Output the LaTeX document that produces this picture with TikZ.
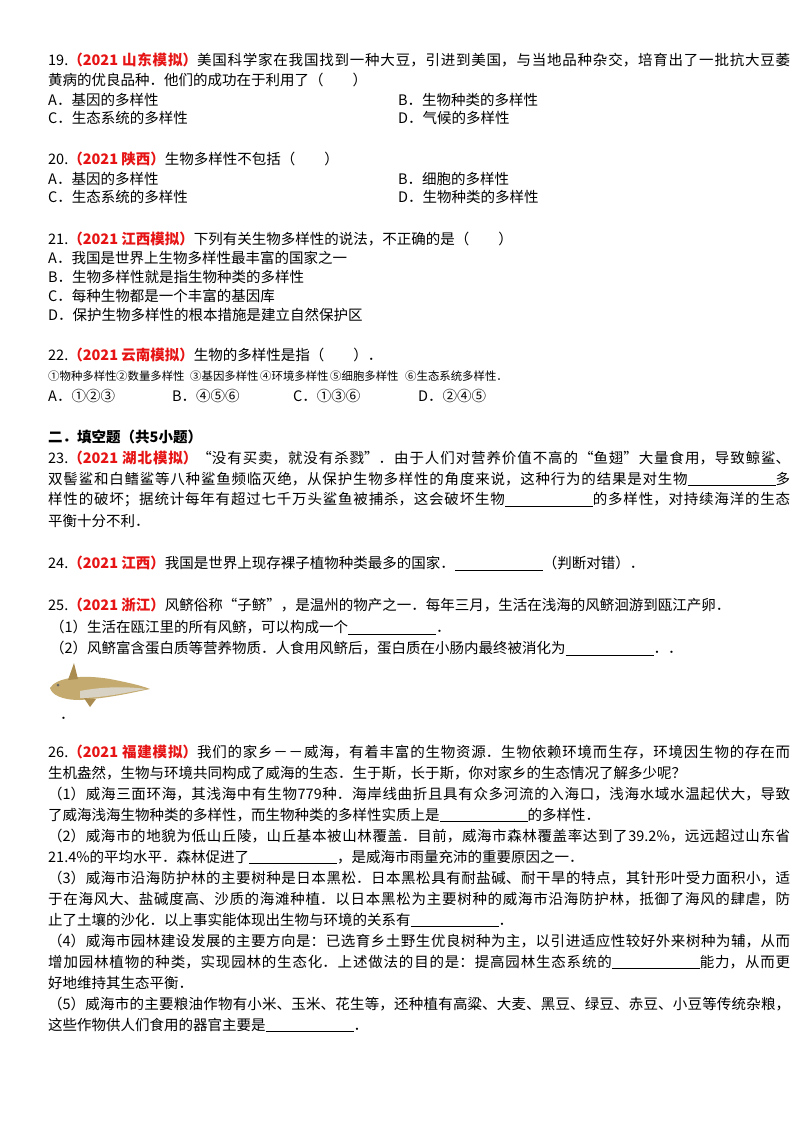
\documentclass[tikz,border=0pt]{standalone}
\usepackage{fontspec}
\setmainfont{Noto Sans CJK SC}
\XeTeXlinebreaklocale "zh"
\XeTeXlinebreakskip=0pt plus 2pt
\definecolor{qred}{RGB}{230,20,20}
\definecolor{fishA}{RGB}{196,170,110}
\definecolor{fishB}{RGB}{170,140,80}
\definecolor{fishC}{RGB}{215,210,195}
\newcommand{\src}[1]{\textcolor{qred}{\bfseries （2021 #1）}}
\newcommand{\blank}{\rule[-2pt]{88pt}{0.7pt}}
\begin{document}
\begin{tikzpicture}[x=1pt,y=-1pt,
  ln/.style={anchor=west,inner sep=0pt,font=\fontsize{14.5}{16}\selectfont},
  sm/.style={ln,font=\fontsize{11.4}{14}\selectfont},
  jl/.style={ln,text width=742pt,align=justify,execute at begin node={\parfillskip=0pt}}]
\useasboundingbox (0,0) rectangle (800,1132);
\fill[white] (0,0) rectangle (800,1132);
% 19
\node[jl] (a1) at (48,60) {19.\src{山东模拟}美国科学家在我国找到一种大豆，引进到美国，与当地品种杂交，培育出了一批抗大豆萎};
\node[ln] (a2) at (48,80) {黄病的优良品种．他们的成功在于利用了（\qquad ）};
\node[ln] (a3) at (48,100) {A．基因的多样性};
\node[ln] (a4) at (398,100) {B．生物种类的多样性};
\node[ln] (a5) at (48,118) {C．生态系统的多样性};
\node[ln] (a6) at (398,118) {D．气候的多样性};
% 20
\node[ln] (b1) at (48,159) {20.\src{陕西}生物多样性不包括（\qquad ）};
\node[ln] (b2) at (48,179) {A．基因的多样性};
\node[ln] (b3) at (398,179) {B．细胞的多样性};
\node[ln] (b4) at (48,197) {C．生态系统的多样性};
\node[ln] (b5) at (398,197) {D．生物种类的多样性};
% 21
\node[ln] (c1) at (48,239) {21.\src{江西模拟}下列有关生物多样性的说法，不正确的是（\qquad ）};
\node[ln] (c2) at (48,258) {A．我国是世界上生物多样性最丰富的国家之一};
\node[ln] (c3) at (48,277) {B．生物多样性就是指生物种类的多样性};
\node[ln] (c4) at (48,296) {C．每种生物都是一个丰富的基因库};
\node[ln] (c5) at (48,315) {D．保护生物多样性的根本措施是建立自然保护区};
% 22
\node[ln] (d1) at (48,355) {22.\src{云南模拟}生物的多样性是指（\qquad ）．};
\node[sm] (d2) at (48,376) {①物种多样性};
\node[sm] (d3) at (116,376) {②数量多样性};
\node[sm] (d4) at (190,376) {③基因多样性};
\node[sm] (d5) at (260,376) {④环境多样性};
\node[sm] (d6) at (330,376) {⑤细胞多样性};
\node[sm] (d7) at (405,376) {⑥生态系统多样性．};
\node[ln] (d8) at (48,396) {A．①②③};
\node[ln] (d9) at (172,396) {B．④⑤⑥};
\node[ln] (d10) at (293,396) {C．①③⑥};
\node[ln] (d11) at (418,396) {D．②④⑤};
% section
\node[ln,font=\fontsize{14.5}{16}\selectfont\bfseries] (s) at (48,437) {二．填空题（共5小题）};
% 23
\node[jl] (e1) at (48,458) {23.\src{湖北模拟}“没有买卖，就没有杀戮”．由于人们对营养价值不高的“鱼翅”大量食用，导致鲸鲨、};
\node[jl] (e2) at (48,479) {双髻鲨和白鳍鲨等八种鲨鱼频临灭绝，从保护生物多样性的角度来说，这种行为的结果是对生物\blank 多};
\node[jl] (e3) at (48,500) {样性的破坏；据统计每年有超过七千万头鲨鱼被捕杀，这会破坏生物\blank 的多样性，对持续海洋的生态};
\node[ln] (e4) at (48,521) {平衡十分不利．};
% 24
\node[ln] (f1) at (48,563) {24.\src{江西}我国是世界上现存裸子植物种类最多的国家．\blank（判断对错）．};
% 25
\node[ln] (g1) at (48,605) {25.\src{浙江}风鲚俗称“子鲚”，是温州的物产之一．每年三月，生活在浅海的风鲚洄游到瓯江产卵．};
\node[ln] (g2) at (50,627) {（1）生活在瓯江里的所有风鲚，可以构成一个\blank．};
\node[ln] (g3) at (50,648) {（2）风鲚富含蛋白质等营养物质．人食用风鲚后，蛋白质在小肠内最终被消化为\blank．．};
% fish
\fill[fishA] (50,688) .. controls (56,678) and (80,674) .. (110,679)
  .. controls (125,682) and (140,685) .. (150,689) .. controls (130,693) and (110,698) .. (80,700)
  .. controls (62,700) and (52,695) .. (50,688) -- cycle;
\fill[fishB] (68,680) -- (74,663) -- (78,679) -- cycle;
\fill[fishC] (80,691) .. controls (100,687) and (125,686) .. (146,689) .. controls (120,694) and (100,698) .. (80,698) -- cycle;
\fill[fishB] (84,698) -- (90,707) -- (96,699) -- cycle;
\fill[black!60] (58,685) circle (1.5);
\node[ln] (g4) at (60,718) {．};
% 26
\node[jl] (h1) at (48,752) {26.\src{福建模拟}我们的家乡－－威海，有着丰富的生物资源．生物依赖环境而生存，环境因生物的存在而};
\node[ln] (h2) at (48,773) {生机盎然，生物与环境共同构成了威海的生态．生于斯，长于斯，你对家乡的生态情况了解多少呢？};
\node[jl] (h3) at (48,794) {（1）威海三面环海，其浅海中有生物779种．海岸线曲折且具有众多河流的入海口，浅海水域水温起伏大，导致};
\node[ln] (h4) at (48,815) {了威海浅海生物种类的多样性，而生物种类的多样性实质上是\blank 的多样性．};
\node[jl] (h5) at (48,836) {（2）威海市的地貌为低山丘陵，山丘基本被山林覆盖．目前，威海市森林覆盖率达到了39.2\%，远远超过山东省};
\node[ln] (h6) at (48,857) {21.4\%的平均水平．森林促进了\blank，是威海市雨量充沛的重要原因之一．};
\node[jl] (h7) at (48,878) {（3）威海市沿海防护林的主要树种是日本黑松．日本黑松具有耐盐碱、耐干旱的特点，其针形叶受力面积小，适};
\node[jl] (h8) at (48,899) {于在海风大、盐碱度高、沙质的海滩种植．以日本黑松为主要树种的威海市沿海防护林，抵御了海风的肆虐，防};
\node[ln] (h9) at (48,920) {止了土壤的沙化．以上事实能体现出生物与环境的关系有\blank．};
\node[jl] (h10) at (48,941) {（4）威海市园林建设发展的主要方向是：已选育乡土野生优良树种为主，以引进适应性较好外来树种为辅，从而};
\node[jl] (h11) at (48,962) {增加园林植物的种类，实现园林的生态化．上述做法的目的是：提高园林生态系统的\blank 能力，从而更};
\node[ln] (h12) at (48,983) {好地维持其生态平衡．};
\node[jl] (h13) at (48,1004) {（5）威海市的主要粮油作物有小米、玉米、花生等，还种植有高粱、大麦、黑豆、绿豆、赤豆、小豆等传统杂粮，};
\node[ln] (h14) at (48,1025) {这些作物供人们食用的器官主要是\blank．};
\end{tikzpicture}
\end{document}
